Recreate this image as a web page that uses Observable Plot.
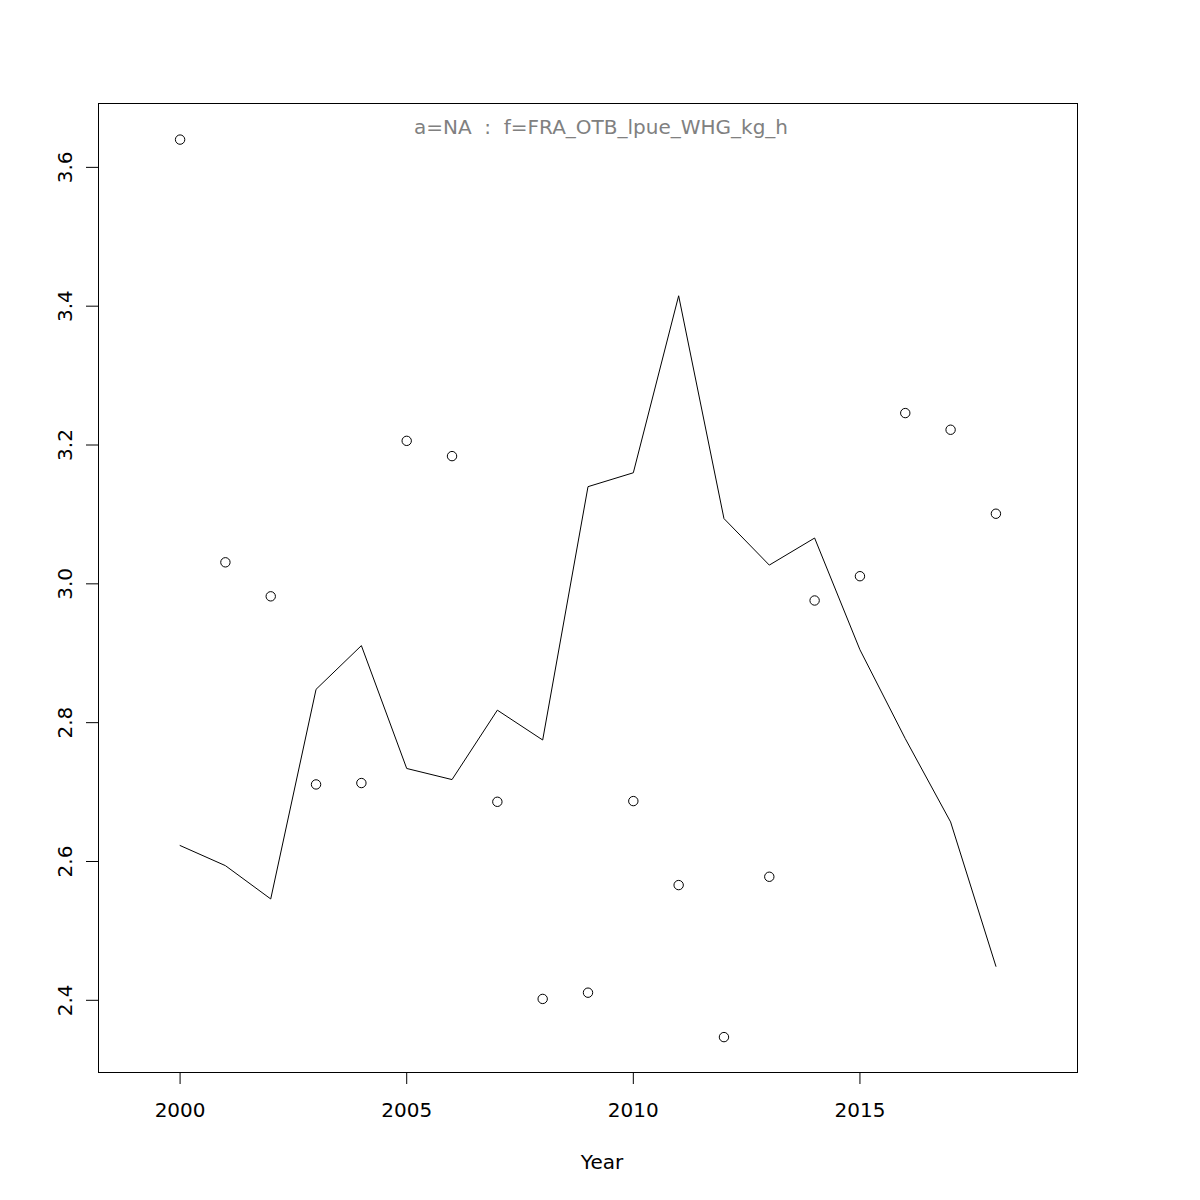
<!DOCTYPE html>
<html>
<head>
<meta charset="utf-8">
<script src="https://cdn.jsdelivr.net/npm/d3@7"></script>
<script src="https://cdn.jsdelivr.net/npm/@observablehq/plot@0.6"></script>
<style>
  body { margin: 0; background: #fff; }
  #chart { width: 1200px; height: 1200px; }
</style>
</head>
<body>
<div id="chart"></div>
<script>
const years = [2000,2001,2002,2003,2004,2005,2006,2007,2008,2009,2010,2011,2012,2013,2014,2015,2016,2017,2018];
const observed = [3.640,3.031,2.982,2.711,2.713,3.206,3.184,2.686,2.402,2.411,2.687,2.566,2.347,2.578,2.976,3.011,3.246,3.222,3.101];
const fitted = [2.623,2.594,2.546,2.848,2.911,2.734,2.718,2.818,2.775,3.140,3.160,3.415,3.094,3.027,3.066,2.905,2.777,2.657,2.449];
const xTicks = [2000,2005,2010,2015];
const yTicks = [2.4,2.6,2.8,3.0,3.2,3.4,3.6];
const titleText = "a=NA  :  f=FRA_OTB_lpue_WHG_kg_h";
const xLabel = "Year";

const obsData = years.map((y,i) => ({year: y, value: observed[i]}));
const fitData = years.map((y,i) => ({year: y, value: fitted[i]}));

const fontFamily = "DejaVu Sans, sans-serif";

const chart = Plot.plot({
  width: 1200,
  height: 1200,
  marginLeft: 98,
  marginRight: 123,
  marginTop: 103,
  marginBottom: 128,
  style: {fontFamily, fontSize: "20px", background: "#fff", color: "#000"},
  x: {domain: [1998.2, 2019.8]},
  y: {domain: [2.296, 3.692]},
  marks: [
    Plot.frame({stroke: "#000", strokeWidth: 1}),
    Plot.axisX({ticks: xTicks, tickSize: 12, tickPadding: 18, tickFormat: d => String(d), fontSize: 20, label: null}),
    Plot.axisY({ticks: yTicks, tickSize: 12, tickPadding: 15, tickRotate: -90, tickFormat: d3.format(".1f"), fontSize: 20, label: null}),
    Plot.line(fitData, {x: "year", y: "value", stroke: "#000", strokeWidth: 1}),
    Plot.dot(obsData, {x: "year", y: "value", r: 4.7, stroke: "#000", strokeWidth: 1, fill: "none"}),
    Plot.text([titleText], {frameAnchor: "top", dx: 13, dy: 16, text: d => d, fill: "#808080", fontSize: 20}),
    Plot.text([xLabel], {frameAnchor: "bottom", dx: 14, dy: 96.5, text: d => d, fill: "#000", fontSize: 20})
  ]
});
document.getElementById("chart").appendChild(chart);
</script>
</body>
</html>
